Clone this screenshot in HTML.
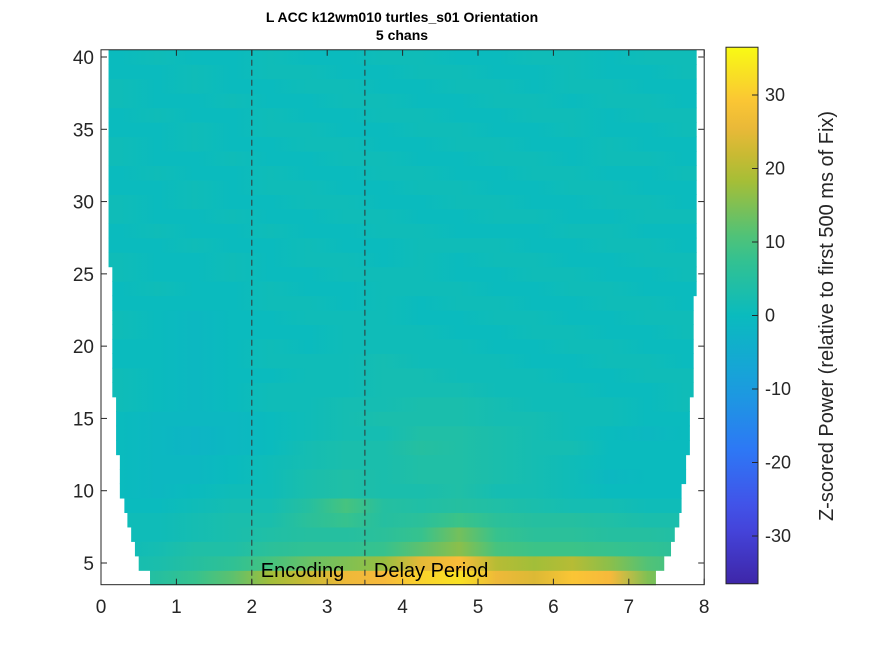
<!DOCTYPE html>
<html><head><meta charset="utf-8"><style>
body{margin:0;background:#fff;}
svg{display:block;font-family:"Liberation Sans",Arial,sans-serif;}
</style></head><body>
<svg id="chart" width="875" height="656" viewBox="0 0 875 656">
<defs id="defs"><linearGradient id="cbgrad" x1="0" y1="1" x2="0" y2="0"></linearGradient></defs>
<text x="402" y="22" text-anchor="middle" font-size="14" font-weight="bold" fill="#000">L ACC k12wm010 turtles_s01 Orientation</text>
<text x="402" y="40" text-anchor="middle" font-size="14" font-weight="bold" fill="#000">5 chans</text>
<g id="heat"></g>
<g id="axes"></g>
<g id="cbar"></g>
<text transform="translate(833,316) rotate(-90)" text-anchor="middle" font-size="20" fill="#262626">Z-scored Power (relative to first 500 ms of Fix)</text>
</svg>
<script>
const freqs=[4,5,6,7,8,9,10,11,12,13,14,15,16,17,18,19,20,21,22,23,24,25,26,27,28,29,30,31,32,33,34,35,36,37,38,39,40];
const binTimes=[0.25,0.75,1.25,1.75,2.25,2.75,3.25,3.75,4.25,4.75,5.25,5.75,6.25,6.75,7.25,7.75];
const tStart=[0.65,0.5,0.45,0.4,0.35,0.31,0.25,0.25,0.25,0.2,0.2,0.2,0.2,0.15,0.15,0.15,0.15,0.15,0.15,0.15,0.15,0.15,0.1,0.1,0.1,0.1,0.1,0.1,0.1,0.1,0.1,0.1,0.1,0.1,0.1,0.1,0.1];
const tEnd=[7.36,7.47,7.56,7.61,7.67,7.7,7.7,7.76,7.76,7.81,7.81,7.81,7.81,7.86,7.86,7.86,7.86,7.86,7.86,7.86,7.9,7.9,7.9,7.9,7.9,7.9,7.9,7.9,7.9,7.9,7.9,7.9,7.9,7.9,7.9,7.9,7.9];
const power=[
[3,5,8,12,18,22,26,27,31,33,26,24,29,27,15,11],
[2,3,5,7,10,13,15,17,25,28,20,18,20,16,11,9],
[1,2,4,4,6,7,7,8,12,16,10,9,9,8,7,6],
[1,1,2,3,4,5,5,6,8,14,8,6,6,5,5,4],
[1,1,2,3,3,6,8,5,6,9,6,5,5,4,3,3],
[0,0,1,2,2,5,10,5,4,5,4,3,2,2,1,1],
[0,-1,0,1,1,3,4,3,3,4,2,2,1,0,0,0],
[0,-1,-1,0,1,3,4,3,4,4,3,2,1,-1,0,0],
[0,-1,-1,0,1,2,3,3,4,4,3,2,1,0,0,0],
[0,-1,-2,-1,0,2,3,3,5,4,3,2,2,0,0,0],
[0,-1,-2,-1,0,1,2,2,4,4,3,2,1,0,-1,0],
[0,-1,-1,-1,0,1,2,3,3,3,2,2,1,1,0,0],
[1,0,-1,0,1,1,2,2,3,3,2,1,1,1,0,1],
[1,0,-1,0,1,1,1,2,2,2,1,1,1,0,0,1],
[1,0,-1,0,0,1,1,2,2,1,1,1,0,0,1,1],
[0,0,-1,0,1,1,1,2,1,1,1,0,0,1,1,0],
[0,0,-1,0,1,0,1,1,1,1,0,0,1,1,0,0],
[1,0,-1,0,0,0,1,1,1,0,0,1,1,0,0,1],
[1,0,-1,0,0,1,1,1,0,0,1,1,0,0,1,1],
[0,0,0,0,1,1,0,1,0,1,1,0,0,1,1,0],
[0,1,0,0,1,0,0,1,1,1,0,0,1,1,0,0],
[1,0,0,1,0,0,1,1,1,0,0,1,1,0,0,1],
[1,0,0,1,0,1,1,0,1,0,1,1,0,0,1,1],
[0,0,1,0,0,1,0,0,1,1,1,0,0,1,1,0],
[0,1,0,0,1,0,0,1,1,0,0,0,1,1,0,0],
[1,0,0,1,0,0,1,1,0,0,1,1,0,0,1,1],
[1,0,1,0,0,1,1,0,0,1,1,0,0,1,1,0],
[0,0,1,0,1,1,0,0,1,1,0,0,1,1,0,0],
[0,1,0,0,1,0,0,1,1,0,0,1,1,0,0,1],
[1,0,0,1,0,0,1,1,0,0,1,1,0,1,1,0],
[1,0,1,0,0,1,1,0,0,1,1,0,0,1,0,0],
[0,0,1,0,1,1,0,0,1,1,0,0,1,0,0,1],
[0,1,0,0,1,0,0,1,1,0,0,1,1,0,1,1],
[1,0,0,1,0,0,1,1,0,0,1,1,0,1,1,0],
[1,0,1,0,0,1,1,0,0,1,1,0,1,1,0,0],
[0,0,1,0,1,1,0,0,1,1,0,0,1,0,0,1],
[0,1,0,0,1,0,0,1,1,0,0,1,1,0,1,1]
];
const xTicks=[0,1,2,3,4,5,6,7,8];
const yTicks=[5,10,15,20,25,30,35,40];
const cbTicks=[-30,-20,-10,0,10,20,30];
const markers=[{t:2,label:"Encoding"},{t:3.5,label:"Delay Period"}];
const cMin=-36.5,cMax=36.5;

const NS="http://www.w3.org/2000/svg";
const X=t=>101+t*75.4;
const Y=f=>563-(f-5)*14.457;
const CB=v=>315.5-v*7.35;
const cmap=[[0,[62,38,168]],[0.125,[70,75,230]],[0.25,[45,120,245]],[0.375,[25,160,220]],[0.5,[10,187,190]],[0.625,[60,195,135]],[0.75,[165,190,55]],[0.8125,[210,185,50]],[0.875,[250,185,60]],[1,[249,250,20]]];
function color(v){let p=(v-cMin)/(cMax-cMin);p=Math.max(0,Math.min(1,p));
 for(let i=1;i<cmap.length;i++){if(p<=cmap[i][0]){const a=cmap[i-1],b=cmap[i];const r=(p-a[0])/(b[0]-a[0]);
 const c=a[1].map((x,k)=>Math.round(x+(b[1][k]-x)*r));return `rgb(${c[0]},${c[1]},${c[2]})`;}}return "rgb(249,250,20)";}
function mk(tag,attrs,parent){const e=document.createElementNS(NS,tag);for(const k in attrs)e.setAttribute(k,attrs[k]);parent.appendChild(e);return e;}
const defsEl=document.getElementById('defs'),heatEl=document.getElementById('heat'),axesEl=document.getElementById('axes'),cbarEl=document.getElementById('cbar');

freqs.forEach((f,i)=>{
 const g=mk('linearGradient',{id:'rg'+i,gradientUnits:'userSpaceOnUse',x1:X(0),y1:0,x2:X(8),y2:0},defsEl);
 power[i].forEach((v,j)=>{mk('stop',{offset:binTimes[j]/8,'stop-color':color(v)},g);});
 const r=mk('rect',{x:X(tStart[i]),y:Y(f+0.5),width:X(tEnd[i])-X(tStart[i]),height:Y(f-0.5)-Y(f+0.5)+0.6,fill:'url(#rg'+i+')'},heatEl);
 
 
});
markers.forEach(m=>{
 const l=mk('line',{x1:X(m.t),x2:X(m.t),y1:Y(40.5),y2:Y(3.5),stroke:'#333','stroke-width':1,'stroke-dasharray':'6,4'},axesEl);
 
 
 const t=mk('text',{x:X(m.t)+9,y:577,'font-size':20,fill:'#000'},axesEl);t.textContent=m.label;
 
 
});
const plotTop=Y(40.5),plotBot=Y(3.5),plotLeft=X(0),plotRight=X(8);
const box=mk('rect',{x:plotLeft,y:plotTop,width:plotRight-plotLeft,height:plotBot-plotTop,fill:'none',stroke:'#262626','stroke-width':1},axesEl);


xTicks.forEach(v=>{
 mk('line',{x1:X(v),x2:X(v),y1:plotBot,y2:plotBot-6,stroke:'#262626'},axesEl);
 mk('line',{x1:X(v),x2:X(v),y1:plotTop,y2:plotTop+6,stroke:'#262626'},axesEl);
 const t=mk('text',{x:X(v),y:613,'text-anchor':'middle','font-size':19,fill:'#262626'},axesEl);t.textContent=v;
 
 
});
yTicks.forEach(v=>{
 mk('line',{x1:plotLeft,x2:plotLeft+6,y1:Y(v),y2:Y(v),stroke:'#262626'},axesEl);
 mk('line',{x1:plotRight,x2:plotRight-6,y1:Y(v),y2:Y(v),stroke:'#262626'},axesEl);
 const t=mk('text',{x:94,y:Y(v)+7,'text-anchor':'end','font-size':19,fill:'#262626'},axesEl);t.textContent=v;
 
 
});
const cg=document.getElementById('cbgrad');
for(let k=0;k<=20;k++){const v=cMin+(cMax-cMin)*k/20;mk('stop',{offset:k/20,'stop-color':color(v)},cg);}
const cr=mk('rect',{x:726,y:CB(cMax),width:32,height:CB(cMin)-CB(cMax),fill:'url(#cbgrad)',stroke:'#262626','stroke-width':1},cbarEl);


cbTicks.forEach(v=>{
 mk('line',{x1:752,x2:758,y1:CB(v),y2:CB(v),stroke:'#262626'},cbarEl);
 const t=mk('text',{x:765,y:CB(v)+6,'font-size':18,fill:'#262626'},cbarEl);t.textContent=v;
 
 
});
</script>
</body></html>
